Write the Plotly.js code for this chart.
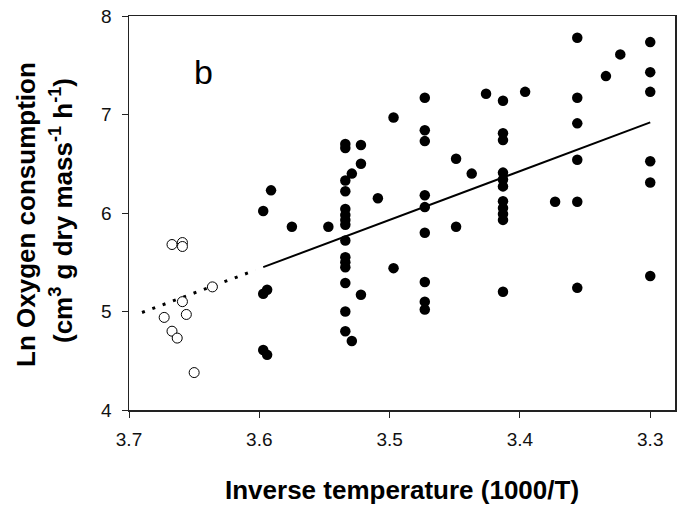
<!DOCTYPE html>
<html>
<head>
<meta charset="utf-8">
<script src="https://cdn.plot.ly/plotly-3.0.1.min.js"></script>
<style>html,body{margin:0;padding:0;background:#fff;}#chart{width:684px;height:522px;}</style>
</head>
<body>
<div id="chart"></div>
<script>
// Filled circles (experimental range)
var filledX = [3.597, 3.591, 3.597, 3.594, 3.597, 3.594,
  3.575, 3.547,
  3.534, 3.534, 3.534, 3.534, 3.534, 3.534, 3.534, 3.534, 3.534, 3.534, 3.534, 3.534, 3.534, 3.534, 3.534,
  3.529, 3.529, 3.522, 3.522, 3.522, 3.509, 3.497, 3.497,
  3.473, 3.473, 3.473, 3.473, 3.473, 3.473, 3.473, 3.473, 3.473,
  3.449, 3.449, 3.437, 3.426,
  3.413, 3.413, 3.413, 3.413, 3.413, 3.413, 3.413, 3.413, 3.413, 3.413, 3.413,
  3.396, 3.373,
  3.356, 3.356, 3.356, 3.356, 3.356, 3.356,
  3.334, 3.323,
  3.300, 3.300, 3.300, 3.300, 3.300, 3.300];
var filledY = [6.02, 6.23, 5.18, 5.22, 4.61, 4.56,
  5.86, 5.86,
  6.70, 6.66, 6.33, 6.22, 6.04, 5.98, 5.93, 5.88, 5.72, 5.55, 5.50, 5.45, 5.29, 5.00, 4.80,
  6.40, 4.70, 6.69, 6.50, 5.17, 6.15, 6.97, 5.44,
  7.17, 6.84, 6.73, 6.18, 6.06, 5.80, 5.30, 5.10, 5.02,
  6.55, 5.86, 6.40, 7.21,
  7.14, 6.81, 6.74, 6.41, 6.34, 6.27, 6.12, 6.05, 5.99, 5.93, 5.20,
  7.23, 6.115,
  7.78, 7.17, 6.91, 6.54, 6.115, 5.24,
  7.39, 7.61,
  7.735, 7.43, 7.23, 6.525, 6.31, 5.36];
// Open circles (extrapolated range)
var openX = [3.667, 3.659, 3.659, 3.659, 3.636, 3.673, 3.656, 3.667, 3.663, 3.650];
var openY = [5.68, 5.70, 5.66, 5.10, 5.25, 4.94, 4.97, 4.80, 4.73, 4.38];
// Regression line endpoints
var fitX = [3.597, 3.300];
var fitY = [5.45, 6.92];
var extX = [3.690, 3.603];
var extY = [4.99, 5.42];
var xTicks = [3.7, 3.6, 3.5, 3.4, 3.3];
var yTicks = [4, 5, 6, 7, 8];

var FONT = 'Arial, "Liberation Sans", sans-serif';
var traces = [
  {x: extX, y: extY, mode: 'lines', line: {color: '#000', width: 3, dash: '3px,8px'}, hoverinfo: 'skip'},
  {x: fitX, y: fitY, mode: 'lines', line: {color: '#000', width: 2}, hoverinfo: 'skip'},
  {x: filledX, y: filledY, mode: 'markers', marker: {color: '#000', size: 10.5, line: {width: 0}}},
  {x: openX, y: openY, mode: 'markers', marker: {color: '#fff', size: 10, line: {color: '#000', width: 1}}}
];
var layout = {
  width: 684, height: 522,
  margin: {l: 129, r: 9, t: 16, b: 112},
  paper_bgcolor: '#fff', plot_bgcolor: '#fff',
  showlegend: false,
  font: {family: FONT, color: '#111', size: 19},
  xaxis: {
    range: [3.7, 3.281], tickvals: xTicks, ticktext: xTicks.map(function(v){return v.toFixed(1);}),
    showgrid: false, zeroline: false, showline: true, mirror: true, linecolor: '#222', linewidth: 1.5,
    ticks: 'outside', ticklen: 6, tickwidth: 1, tickcolor: '#222', ticklabelstandoff: 6,
    tickfont: {family: FONT, size: 19, color: '#111'}
  },
  yaxis: {
    range: [4, 8], tickvals: yTicks, ticktext: yTicks.map(String),
    showgrid: false, zeroline: false, showline: true, mirror: true, linecolor: '#222', linewidth: 1.5,
    ticks: 'outside', ticklen: 6, tickwidth: 1, tickcolor: '#222', ticklabelstandoff: 6,
    tickfont: {family: FONT, size: 19, color: '#111'}
  },
  annotations: [
    {text: 'b', xref: 'paper', yref: 'paper', x: (203 - 129) / 546, y: (410 - 72) / 394,
     showarrow: false, xanchor: 'center', yanchor: 'middle', font: {family: FONT, size: 34, color: '#000'}},
    {text: '<b>Inverse temperature (1000/T)</b>', xref: 'paper', yref: 'paper', x: 0.5, y: (410 - 490) / 394,
     showarrow: false, xanchor: 'center', yanchor: 'middle', font: {family: FONT, size: 26, color: '#000'}},
    {text: '<b>Ln Oxygen consumption</b>', xref: 'paper', yref: 'paper', x: (26 - 129) / 546, y: (410 - 215) / 394,
     textangle: -90, showarrow: false, xanchor: 'center', yanchor: 'middle', font: {family: FONT, size: 26, color: '#000'}},
    {text: '<b>(cm<sup>3</sup> g dry mass<sup>-1</sup> h<sup>-1</sup>)</b>', xref: 'paper', yref: 'paper', x: (61 - 129) / 546, y: (410 - 211) / 394,
     textangle: -90, showarrow: false, xanchor: 'center', yanchor: 'middle', font: {family: FONT, size: 26, color: '#000'}}
  ]
};
Plotly.newPlot('chart', traces, layout, {staticPlot: true, displayModeBar: false});
</script>
</body>
</html>
